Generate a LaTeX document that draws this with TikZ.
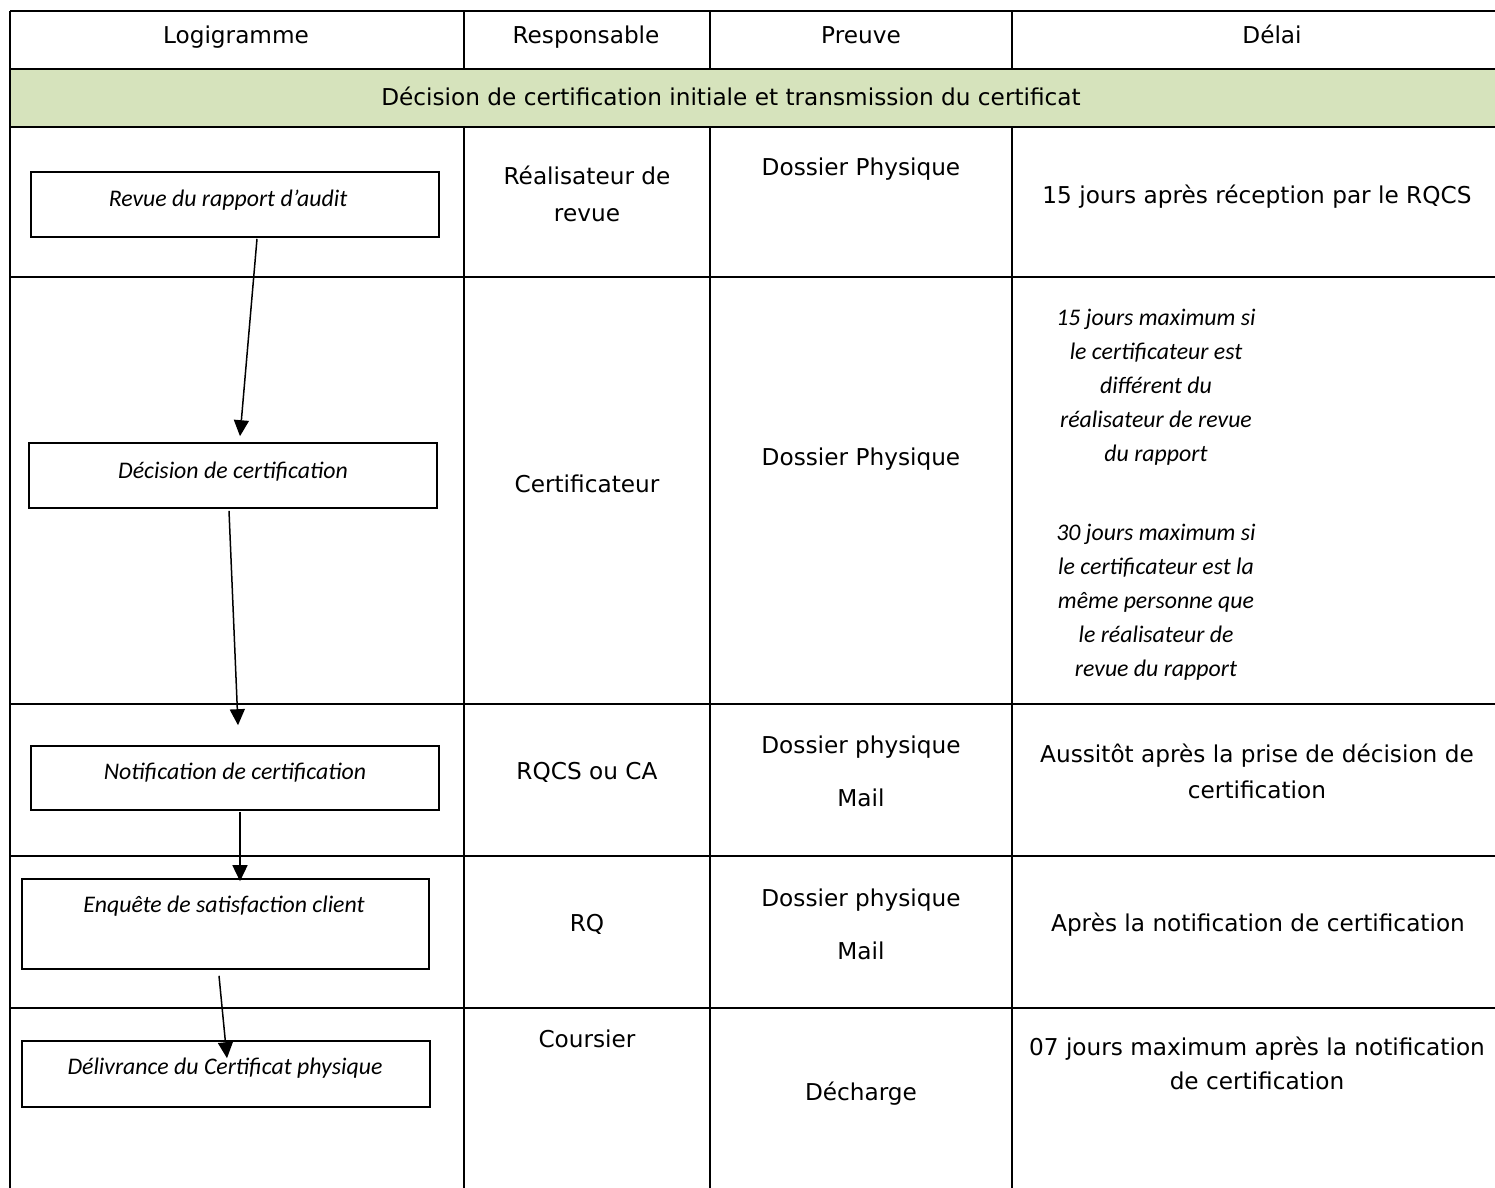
\documentclass[tikz,border=0pt]{standalone}
\usepackage{fontspec}
\setmainfont{DejaVu Sans}
\newfontfamily\calib{Carlito}
\usetikzlibrary{arrows.meta,calc}
\definecolor{bandgreen}{RGB}{214,227,188}
\begin{document}
\begin{tikzpicture}[x=0.5pt,y=-0.5pt,
  grid/.style={line width=1pt},
  cell/.style={font=\fontsize{11.6}{18}\selectfont, align=center, inner sep=0pt, anchor=base},
  flowbox/.style={draw, line width=0.8pt, minimum width=204pt, inner sep=0pt},
  boxtext/.style={font=\calib\itshape\fontsize{11.9}{14}\selectfont, inner sep=0pt, anchor=base},
  note/.style={font=\calib\itshape\fontsize{11.9}{17}\selectfont, align=center, inner sep=0pt, anchor=base},
  flow/.style={line width=0.75pt, -{Triangle[length=8pt,width=7.5pt]}}
]
\useasboundingbox (0,0) rectangle (1495,1188);
% green band
\fill[bandgreen] (10,69) rectangle (1495,127);
% grid
\draw[grid] (10,11) -- (1495,11);
\draw[grid] (10,69) -- (1495,69);
\draw[grid] (10,127) -- (1495,127);
\draw[grid] (10,277) -- (1495,277);
\draw[grid] (10,704) -- (1495,704);
\draw[grid] (10,856) -- (1495,856);
\draw[grid] (10,1008) -- (1495,1008);
\draw[grid] (10,11) -- (10,1188);
\foreach \cx in {464,710,1012}{
  \draw[grid] (\cx,11) -- (\cx,69);
  \draw[grid] (\cx,127) -- (\cx,1188);
}
% header
\node[cell] (h1) at (236,44) {Logigramme};
\node[cell] (h2) at (586,44) {Responsable};
\node[cell] (h3) at (861,44) {Preuve};
\node[cell] (h4) at (1272,44) {Délai};
\node[cell] (band) at (731,106) {Décision de certification initiale et transmission du certificat};
% row 1
\node[cell, font=\fontsize{11.6}{18.5}\selectfont] (r1) at (587,221) {Réalisateur de\\revue};
\node[cell] (p1) at (861,176) {Dossier Physique};
\node[cell] (d1) at (1257,204) {15 jours après réception par le RQCS};
% row 2
\node[cell] (r2) at (587,492) {Certificateur};
\node[cell] (p2) at (861,465) {Dossier Physique};
\node[note] (d2a) at (1156,461) {15 jours maximum si\\le certificateur est\\différent du\\réalisateur de revue\\du rapport};
\node[note] (d2b) at (1156,676) {30 jours maximum si\\le certificateur est la\\même personne que\\le réalisateur de\\revue du rapport};
% row 3
\node[cell] (r3) at (587,779) {RQCS ou CA};
\node[cell] (p3) at (861,806) {Dossier physique\\[8.5pt]Mail};
\node[cell] (d3) at (1257,798) {Aussitôt après la prise de décision de\\certification};
% row 4
\node[cell] (r4) at (587,931) {RQ};
\node[cell] (p4) at (861,959) {Dossier physique\\[8.5pt]Mail};
\node[cell] (d4) at (1258,931) {Après la notification de certification};
% row 5
\node[cell] (r5) at (587,1047) {Coursier};
\node[cell] (p5) at (861,1100) {Décharge};
\node[cell, font=\fontsize{11.6}{17}\selectfont] (d5) at (1257,1089) {07 jours maximum après la notification\\de certification};
% flow boxes
\node[flowbox, minimum height=32.5pt] (b1) at (235,204.5) {};
\node[flowbox, minimum height=32.5pt] (b2) at (233,475.5) {};
\node[flowbox, minimum height=32pt] (b3) at (235,778) {};
\node[flowbox, minimum height=45pt, minimum width=203.5pt] (b4) at (225.5,924) {};
\node[flowbox, minimum height=33pt] (b5) at (226,1074) {};
\node[boxtext] (t1) at (228,206) {Revue du rapport d’audit};
\node[boxtext] (t2) at (233,478) {Décision de certification};
\node[boxtext] (t3) at (235,779) {Notification de certification};
\node[boxtext] (t4) at (224,912) {Enquête de satisfaction client};
\node[boxtext] (t5) at (225,1074) {Délivrance du Certificat physique};
% arrows
\draw[flow] ($(b1.south)+(22,1)$) -- ($(b2.north)+(7,-6)$);
\draw[flow] ($(b2.south)+(-4,2)$) -- ($(b3.north)+(3,-20)$);
\draw[flow] ($(b3.south)+(5,1)$) -- ($(b4.north)+(14.5,3)$);
\draw[flow] ($(b4.south)+(-6.5,6)$) -- ($(b5.north)+(1,18)$);
\end{tikzpicture}
\end{document}
